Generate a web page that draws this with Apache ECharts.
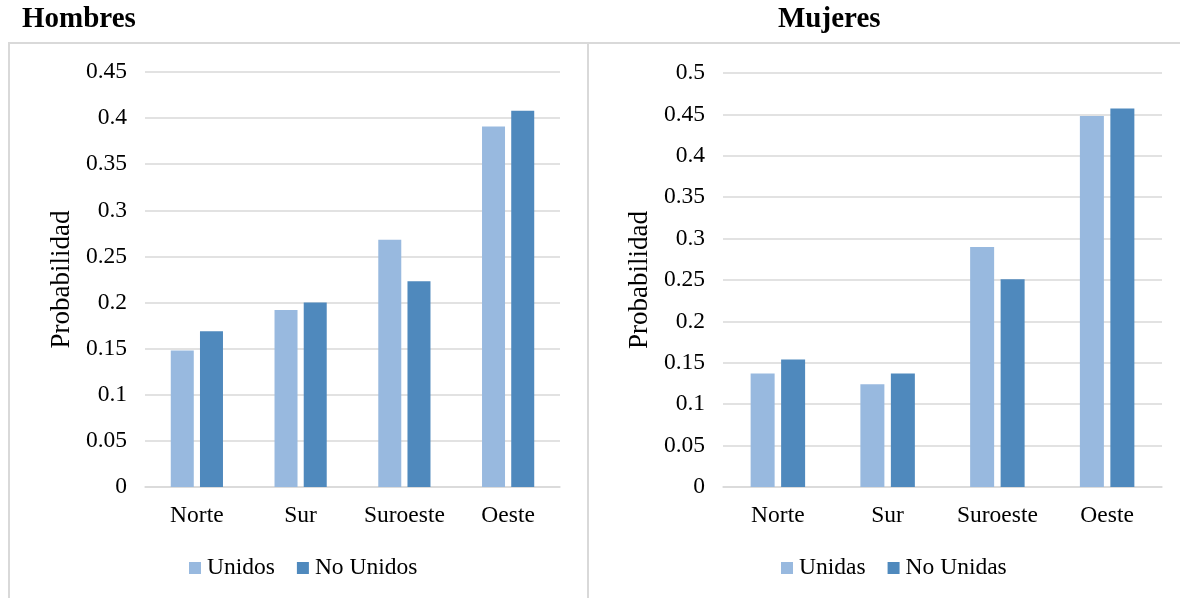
<!DOCTYPE html>
<html>
<head>
<meta charset="utf-8">
<script src="https://cdn.jsdelivr.net/npm/echarts@6/dist/echarts.min.js"></script>
<style>
  html, body { margin: 0; padding: 0; background: #ffffff; }
  #chart { width: 1180px; height: 598px; }
</style>
</head>
<body>
<div id="chart"></div>
<script>
// Regions shown on the category axis
const regions = ['Norte', 'Sur', 'Suroeste', 'Oeste'];

// Men: probabilities by region
const hombresUnidos = [0.148, 0.192, 0.268, 0.391];
const hombresNoUnidos = [0.169, 0.200, 0.223, 0.408];

// Women: probabilities by region
const mujeresUnidas = [0.137, 0.124, 0.290, 0.448];
const mujeresNoUnidas = [0.154, 0.137, 0.251, 0.457];

// Value-axis ranges
const hombresMax = 0.45;
const mujeresMax = 0.5;
const tickStep = 0.05;

const FONT = "'Liberation Serif', 'Times New Roman', serif";
const LIGHT = '#98b9df';
const DARK = '#4f89bd';
const GRID_LINE = '#d9d9d9';
const TEXT_SIZE = 23.5;

function valueAxis(gridIndex, max) {
  return {
    type: 'value',
    gridIndex: gridIndex,
    min: 0,
    max: max,
    interval: tickStep,
    name: 'Probabilidad',
    nameLocation: 'middle',
    nameGap: 70,
    nameTextStyle: { fontFamily: FONT, fontSize: 27, color: '#000' },
    axisLine: { show: false },
    axisTick: { show: false },
    axisLabel: {
      fontFamily: FONT, fontSize: TEXT_SIZE, color: '#000', margin: 18,
      formatter: v => String(parseFloat(v.toFixed(2)))
    },
    splitLine: { lineStyle: { color: GRID_LINE, width: 1.5 } }
  };
}

function categoryAxis(gridIndex) {
  return {
    type: 'category',
    gridIndex: gridIndex,
    data: regions,
    axisLine: { lineStyle: { color: GRID_LINE, width: 1.5 } },
    axisTick: { show: false },
    axisLabel: {
      fontFamily: FONT, fontSize: TEXT_SIZE, color: '#000', margin: 17,
      interval: 0, hideOverlap: false
    }
  };
}

function barSeries(name, data, color, idx, width) {
  return {
    name: name,
    type: 'bar',
    xAxisIndex: idx,
    yAxisIndex: idx,
    data: data,
    barWidth: width,
    barGap: '27%',
    itemStyle: { color: color },
    emphasis: { disabled: true }
  };
}

function legend(names, left) {
  return {
    data: names,
    left: left, top: 556,
    padding: 0,
    itemWidth: 12, itemHeight: 12, itemGap: 22,
    icon: 'rect',
    textStyle: { fontFamily: FONT, fontSize: TEXT_SIZE, color: '#000', padding: [0, 0, 0, 1] }
  };
}

const chart = echarts.init(document.getElementById('chart'), null, { renderer: 'canvas' });

chart.setOption({
  animation: false,
  backgroundColor: '#ffffff',
  title: [
    {
      text: 'Hombres', left: 22, top: 5, padding: 0,
      textStyle: { fontFamily: FONT, fontSize: 29, fontWeight: 'bold', color: '#000' }
    },
    {
      text: 'Mujeres', left: 778, top: 5, padding: 0,
      textStyle: { fontFamily: FONT, fontSize: 29, fontWeight: 'bold', color: '#000' }
    }
  ],
  graphic: [
    // panel frames
    {
      type: 'rect', silent: true,
      shape: { x: 9, y: 43, width: 579, height: 600 },
      style: { fill: 'none', stroke: GRID_LINE, lineWidth: 2 }
    },
    {
      type: 'rect', silent: true,
      shape: { x: 588, y: 43, width: 620, height: 600 },
      style: { fill: 'none', stroke: GRID_LINE, lineWidth: 2 }
    }
  ],
  legend: [
    legend(['Unidos', 'No Unidos'], 189),
    legend(['Unidas', 'No Unidas'], 781)
  ],
  grid: [
    { left: 145, right: 620, top: 72, bottom: 111 },
    { left: 723, right: 18, top: 73, bottom: 111 }
  ],
  xAxis: [categoryAxis(0), categoryAxis(1)],
  yAxis: [valueAxis(0, hombresMax), valueAxis(1, mujeresMax)],
  series: [
    barSeries('Unidos', hombresUnidos, LIGHT, 0, 23),
    barSeries('No Unidos', hombresNoUnidos, DARK, 0, 23),
    barSeries('Unidas', mujeresUnidas, LIGHT, 1, 24),
    barSeries('No Unidas', mujeresNoUnidas, DARK, 1, 24)
  ]
});
</script>
</body>
</html>
